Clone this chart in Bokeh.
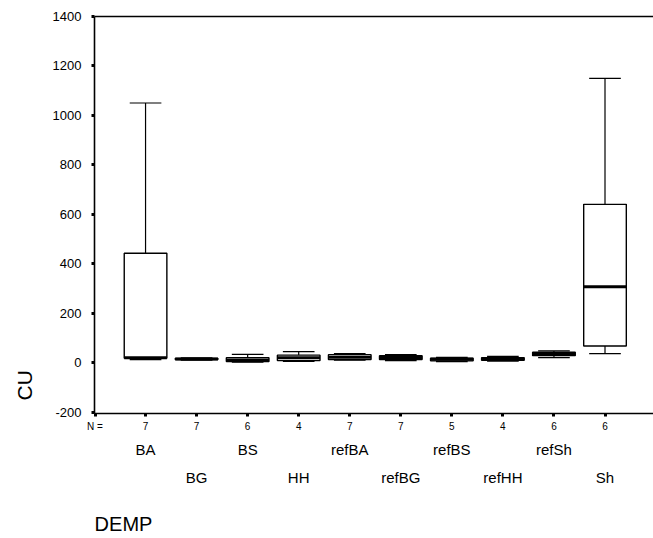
from bokeh.plotting import figure
from bokeh.models import Range1d, LinearAxis, FixedTicker, Title
from bokeh.embed import file_html
from bokeh.resources import INLINE

# ---- data ----
categories = ["BA", "BG", "BS", "HH", "refBA", "refBG", "refBS", "refHH", "refSh", "Sh"]
counts = [7, 7, 6, 4, 7, 7, 5, 4, 6, 6]
whisker_low = [12, 10, 2, 5, 10, 8, 4, 6, 20, 36]
q1 = [18, 12, 4, 8, 12, 12, 7, 9, 28, 67]
median = [20, 14, 10, 20, 22, 21, 13, 15, 36, 307]
q3 = [442, 17, 20, 30, 32, 28, 18, 20, 42, 640]
whisker_high = [1050, 19, 33, 44, 36, 32, 21, 25, 47, 1150]
y_ticks = [-200, 0, 200, 400, 600, 800, 1000, 1200, 1400]
n_label = "N ="
var_name = "DEMP"
y_name = "CU"

FONT = "Liberation Sans"
W, H = 653, 538
FL, FR, FT, FB = 94, 653, 16, 413
X0, X1 = 0, 10.95
Y0, Y1 = -206, 1400

xs = list(range(1, len(categories) + 1))

p = figure(width=W, height=H, output_backend="svg", toolbar_location=None,
           x_range=Range1d(X0, X1), y_range=Range1d(Y0, Y1),
           min_border_left=FL, min_border_right=W - FR, min_border_top=FT,
           min_border_bottom=H - FB, x_axis_location=None, y_axis_location=None)
p.grid.visible = False
p.outline_line_color = None
p.background_fill_color = "white"
p.border_fill_color = "white"


def px2x(px):
    return X0 + (px - FL) * (X1 - X0) / (FR - FL)


def style_axis(ax, size, standoff, ticks=True, line=True):
    ax.axis_line_width = 1.6
    if not line:
        ax.axis_line_color = None
    ax.major_tick_in = 0
    ax.major_tick_out = 3 if ticks else 0
    ax.major_tick_line_width = 3
    if not ticks:
        ax.major_tick_line_color = None
    ax.minor_tick_line_color = None
    ax.major_label_text_font = FONT
    ax.major_label_text_font_size = size
    ax.major_label_text_color = "black"
    ax.major_label_standoff = standoff


# y axis
yax = LinearAxis(ticker=FixedTicker(ticks=y_ticks))
yax.major_label_overrides = {t: str(t) for t in y_ticks}
style_axis(yax, "13px", 10)
p.add_layout(yax, "left")

# "CU" title on the left, near the bottom
p.add_layout(Title(text=y_name, align="left", offset=13, text_font=FONT,
                   text_font_size="21px", text_font_style="normal",
                   vertical_align="top",
                   text_color="black", standoff=24), "left")

# counts axis (with the "N =" marker at the left corner)
n_pos = px2x(94.5)
xax = LinearAxis(ticker=FixedTicker(ticks=[n_pos] + xs))
overrides = {x: str(c) for x, c in zip(xs, counts)}
overrides[n_pos] = n_label
xax.major_label_overrides = overrides
style_axis(xax, "10px", 4)
p.add_layout(xax, "below")

# category rows (staggered)
row1 = LinearAxis(ticker=FixedTicker(ticks=xs[0::2]))
row1.major_label_overrides = {x: categories[x - 1] for x in xs[0::2]}
style_axis(row1, "15px", 6, ticks=False, line=False)
p.add_layout(row1, "below")

row2 = LinearAxis(ticker=FixedTicker(ticks=xs[1::2]))
row2.major_label_overrides = {x: categories[x - 1] for x in xs[1::2]}
style_axis(row2, "15px", 8, ticks=False, line=False)
p.add_layout(row2, "below")

# variable name row
d_pos = px2x(123)
row3 = LinearAxis(ticker=FixedTicker(ticks=[d_pos]))
row3.major_label_overrides = {d_pos: var_name}
style_axis(row3, "20px", 24, ticks=False, line=False)
p.add_layout(row3, "below")

# top frame line
tax = LinearAxis(ticker=FixedTicker(ticks=[]))
tax.axis_line_width = 1.6
tax.major_tick_line_color = None
tax.minor_tick_line_color = None
tax.major_label_text_font_size = "0px"
p.add_layout(tax, "above")

# boxes
BW = 0.835
CW = 0.62
p.segment(x0=xs, y0=q3, x1=xs, y1=whisker_high, line_color="black", line_width=1.2)
p.segment(x0=xs, y0=q1, x1=xs, y1=whisker_low, line_color="black", line_width=1.2)
p.segment(x0=[x - CW / 2 for x in xs], y0=whisker_high, x1=[x + CW / 2 for x in xs],
          y1=whisker_high, line_color="black", line_width=1.2)
p.segment(x0=[x - CW / 2 for x in xs], y0=whisker_low, x1=[x + CW / 2 for x in xs],
          y1=whisker_low, line_color="black", line_width=1.2)
p.vbar(x=xs, bottom=q1, top=q3, width=BW, fill_color="white", line_color="black", line_width=1.4)
p.segment(x0=[x - BW / 2 for x in xs], y0=median, x1=[x + BW / 2 for x in xs],
          y1=median, line_color="black", line_width=3)

open("out.html", "w").write(file_html(p, INLINE))
